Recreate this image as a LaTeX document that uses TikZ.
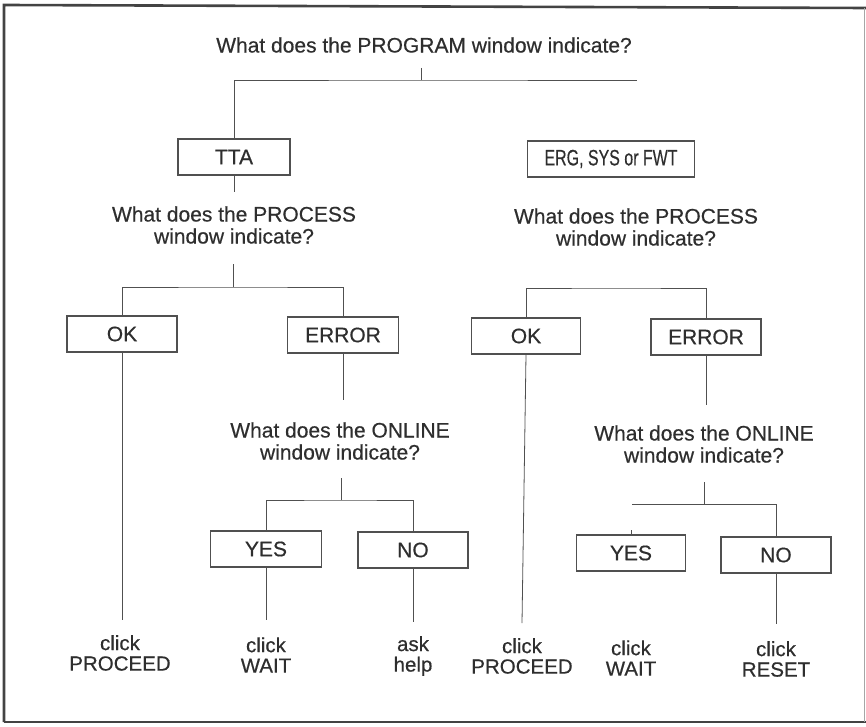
\documentclass[tikz,border=0pt]{standalone}
\usepackage{fontspec}
\usepackage{graphicx}
\setmainfont{Liberation Sans}[FakeBold=0.5]
\definecolor{ink}{HTML}{2E2E2E}
\definecolor{rule}{HTML}{505050}
\begin{document}
\begin{tikzpicture}[x=1pt,y=-1pt,
  every node/.style={text=ink,font=\fontsize{21}{22}\selectfont},
  choice/.style={draw=rule,line width=1.1pt,minimum height=36pt,inner sep=0pt},
  question/.style={align=center,inner sep=0pt},
  action/.style={align=center,inner sep=0pt,font=\fontsize{20.5}{20.5}\selectfont},
  link/.style={draw=rule,line width=0.8pt}]
\useasboundingbox (0,0) rectangle (866,727);
% outer frame
\draw[line width=2.6pt,ink!90] (4,722) -- (4,5) -- (866,8);
\draw[line width=2.6pt,ink!90] (4,722) -- (866,722);
\draw[line width=1pt,black!35] (864,8) -- (864,722);

% first question
\node[question] (q0) at (424,45) {What does the PROGRAM window indicate?};
\node[choice,minimum width=112pt] (tta) at (234,157) {TTA};
\node[choice,minimum width=167pt] (erg) at (611,159) {\scalebox{0.76}[1.06]{ERG, SYS or FWT}};
\coordinate (j0) at (421,80);
\coordinate (j0t) at (421,68);
\coordinate (j0r) at (637,80);
\draw[link] (j0t) -- (j0);
\draw[link] (tta.north) |- (j0) -- (j0r);

% left branch: PROCESS window
\node[question] (qL) at (234,225) {What does the PROCESS\\window indicate?};
\coordinate (tL) at (234,192);
\draw[link] (tta.south) -- (tL);
\node[choice,minimum width=110pt] (okL) at (122,334) {OK};
\node[choice,minimum width=111pt] (errL) at (343,335) {ERROR};
\coordinate (qLb) at (233,264);
\coordinate (hL) at (233,287);
\draw[link] (qLb) -- (hL);
\draw[link] (okL.north) |- (hL) -| (errL.north);

% left branch: ONLINE window
\node[question] (onL) at (340,441) {What does the ONLINE\\window indicate?};
\coordinate (eL) at (343,400);
\draw[link] (errL.south) -- (eL);
\node[choice,minimum width=111pt] (yesL) at (266,549) {YES};
\node[choice,minimum width=110pt] (noL) at (413,550) {NO};
\coordinate (onLb) at (341,478);
\coordinate (hL2) at (341,500);
\draw[link] (onLb) -- (hL2);
\draw[link] (yesL.north) |- (hL2) -| (noL.north);

% left branch: actions
\node[action] (aL1) at (120,653) {click\\PROCEED};
\node[action] (aL2) at (266,655) {click\\WAIT};
\node[action] (aL3) at (413,656) {ask\\help};
\coordinate (dL1) at (122,620);
\coordinate (dL2) at (266,620);
\coordinate (dL3) at (413,622);
\draw[link] (okL.south) -- (dL1);
\draw[link] (yesL.south) -- (dL2);
\draw[link] (noL.south) -- (dL3);

% right branch: PROCESS window
\node[question] (qR) at (636,227) {What does the PROCESS\\window indicate?};
\node[choice,minimum width=109pt] (okR) at (526,336) {OK};
\node[choice,minimum width=110pt] (errR) at (706,337) {ERROR};
\coordinate (hR) at (616,288);
\draw[link] (okR.north) |- (hR) -| (errR.north);

% right branch: ONLINE window
\node[question] (onR) at (704,444) {What does the ONLINE\\window indicate?};
\coordinate (eR) at (706,405);
\draw[link] (errR.south) -- (eR);
\node[choice,minimum width=109pt] (yesR) at (631,553) {YES};
\node[choice,minimum width=110pt] (noR) at (776,555) {NO};
\coordinate (onRb) at (704,482);
\coordinate (hR2) at (704,504);
\coordinate (hR2s) at (632,504);
\draw[link] (onRb) -- (hR2);
\draw[link] (hR2s) -| (noR.north);
\coordinate (yRt) at (631,530);
\draw[link,line width=0.5pt] (yesR.north) -- (yRt);

% right branch: actions
\node[action] (aR1) at (522,656) {click\\PROCEED};
\node[action] (aR2) at (631,658) {click\\WAIT};
\node[action] (aR3) at (776,659) {click\\RESET};
\coordinate (dR1) at (522,623);
\coordinate (dR3) at (776,624);
\draw[link] (okR.south) -- (dR1);
\draw[link] (noR.south) -- (dR3);
\end{tikzpicture}
\end{document}
